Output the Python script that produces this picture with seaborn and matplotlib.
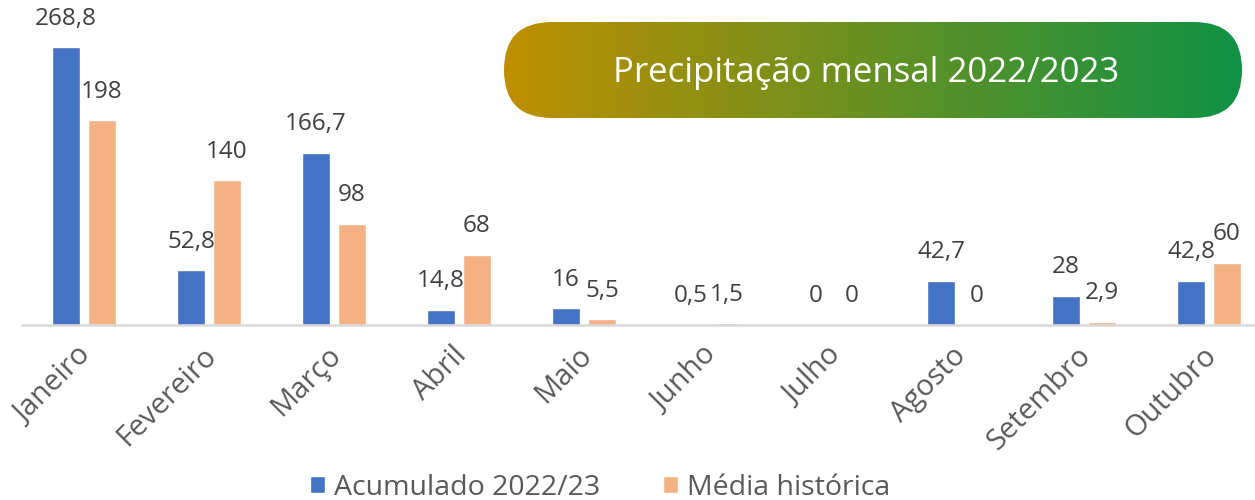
import numpy as np
import pandas as pd
import matplotlib
matplotlib.use("Agg")
import matplotlib.pyplot as plt
import matplotlib.transforms as mtransforms
import seaborn as sns
from matplotlib.patches import FancyBboxPatch
from matplotlib.colors import LinearSegmentedColormap

meses = ["Janeiro", "Fevereiro", "Março", "Abril", "Maio", "Junho",
         "Julho", "Agosto", "Setembro", "Outubro"]
acumulado = [268.8, 52.8, 166.7, 14.8, 16, 0.5, 0, 42.7, 28, 42.8]
media = [198, 140, 98, 68, 5.5, 1.5, 0, 0, 2.9, 60]
series = ["Acumulado 2022/23", "Média histórica"]
titulo = "Precipitação mensal 2022/2023"

df = pd.DataFrame({
    "mes": meses * 2,
    "valor": acumulado + media,
    "serie": [series[0]] * len(meses) + [series[1]] * len(meses),
})

sns.set_theme(style="white")
plt.rcParams['font.family'] = ['Open Sans', 'DejaVu Sans']

fig = plt.figure(figsize=(12.55, 5.0), dpi=100)
ax = fig.add_axes([21.5 / 1255, 0.35, 1250 / 1255, 0.62])

palette = {series[0]: "#4472C4", series[1]: "#F4B183"}
sns.barplot(data=df, x="mes", y="valor", hue="serie", order=meses,
            hue_order=series, palette=palette, width=0.576, gap=0.222,
            saturation=1, ax=ax, legend=True)

ax.set_ylim(0, 300)
ax.set_xlim(-0.5, len(meses) - 0.5)
for s in ["top", "right", "left"]:
    ax.spines[s].set_visible(False)
ax.spines["bottom"].set_color("#D9D9D9")
ax.spines["bottom"].set_linewidth(1.8)
ax.set_yticks([])
ax.set_xlabel("")
ax.set_ylabel("")

def fmt(v):
    s = f"{v:g}"
    return s.replace(".", ",")

for cont in ax.containers:
    for bar in cont:
        h = bar.get_height()
        ax.annotate(fmt(h), (bar.get_x() + bar.get_width() / 2, h),
                    xytext=(0, 12), textcoords="offset points",
                    ha="center", va="bottom", fontsize=17.5, color="#404040")

ax.tick_params(axis="x", length=0, pad=19, colors="#595959", labelsize=21)
offset = mtransforms.ScaledTranslation(3 / 100, 0, fig.dpi_scale_trans)
for lbl in ax.get_xticklabels():
    lbl.set_rotation(45)
    lbl.set_ha("right")
    lbl.set_va("center")
    lbl.set_rotation_mode("anchor")
    lbl.set_transform(lbl.get_transform() + offset)

leg = ax.legend(loc="lower center", bbox_to_anchor=(0.478, -0.055),
                bbox_transform=fig.transFigure, ncol=2, frameon=False,
                fontsize=20.5, handlelength=0.55, handleheight=0.55,
                columnspacing=2.2, handletextpad=0.3)
for t in leg.get_texts():
    t.set_color("#595959")

# Title pill with gradient
tax = fig.add_axes([0, 0, 1, 1], facecolor="none")
tax.set_xlim(0, 1255)
tax.set_ylim(500, 0)
tax.axis("off")
x0, x1, y0, y1 = 504, 1242, 22, 118
r = (y1 - y0) / 2
pill = FancyBboxPatch((x0, y0), x1 - x0, y1 - y0,
                      boxstyle=f"round,pad=0,rounding_size={r}",
                      linewidth=0, facecolor="none")
tax.add_patch(pill)
cmap = LinearSegmentedColormap.from_list("g", ["#BF8F00", "#0F9245"])
grad = np.linspace(0, 1, 256).reshape(1, -1)
im = tax.imshow(grad, cmap=cmap, extent=(x0, x1, y1, y0), aspect="auto",
                zorder=1)
im.set_clip_path(pill)
tax.text((x0 + x1) / 2 - 7, (y0 + y1) / 2 + 3, titulo, color="white",
         fontsize=25, ha="center", va="center", zorder=2)

fig.savefig("out.png", dpi=100)
